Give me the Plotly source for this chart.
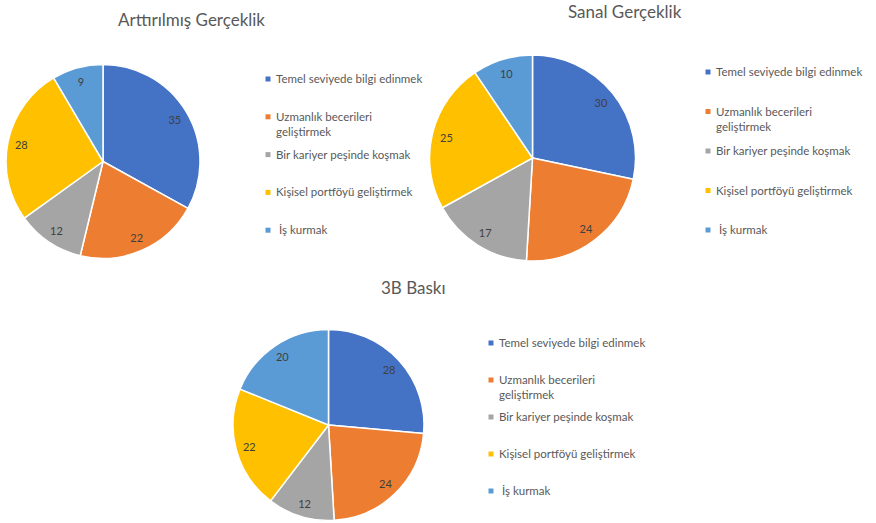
import plotly.graph_objects as go

W, H = 876, 523

labels = ["Temel seviyede bilgi edinmek", "Uzmanlık becerileri geliştirmek",
          "Bir kariyer peşinde koşmak", "Kişisel portföyü geliştirmek", "İş kurmak"]
legend_labels = ["Temel seviyede bilgi edinmek", "Uzmanlık becerileri<br>geliştirmek",
                 "Bir kariyer peşinde koşmak", "Kişisel portföyü geliştirmek", " İş kurmak"]
titles = ["Arttırılmış Gerçeklik", "Sanal Gerçeklik", "3B Baskı"]
ar_values = [35, 22, 12, 28, 9]
vr_values = [30, 24, 17, 25, 10]
print3d_values = [28, 24, 12, 22, 20]
colors = ["#4472C4", "#ED7D31", "#A5A5A5", "#FFC000", "#5B9BD5"]

FONT = "Lato"
TXT = "#595959"

# layout per chart (pixels): pie centre, radius, title centre, legend marker x, first item y, spacing
charts = [
    dict(values=ar_values, cx=103, cy=161.5, r=97, tx=191, ty=20, lx=268, ly=79, dy=37.8),
    dict(values=vr_values, cx=532.5, cy=158, r=103, tx=625, ty=11, lx=708, ly=72, dy=39.5),
    dict(values=print3d_values, cx=328.5, cy=425, r=95.5, tx=413, ty=287, lx=491, ly=343, dy=37),
]

fig = go.Figure()
annotations = []
shapes = []
for title, c in zip(titles, charts):
    dom = dict(x=[(c["cx"] - c["r"]) / W, (c["cx"] + c["r"]) / W],
               y=[1 - (c["cy"] + c["r"]) / H, 1 - (c["cy"] - c["r"]) / H])
    # filled pie
    fig.add_trace(go.Pie(
        labels=labels, values=c["values"], sort=False, direction="clockwise", rotation=0,
        marker=dict(colors=colors, line=dict(color="white", width=1.5)),
        textinfo="none", domain=dom, showlegend=False,
        hoverinfo="label+value+percent",
    ))
    # transparent ring carrying the data labels near the outer edge
    fig.add_trace(go.Pie(
        labels=labels, values=c["values"], sort=False, direction="clockwise", rotation=0,
        hole=0.72,
        marker=dict(colors=["rgba(0,0,0,0)"] * len(labels), line=dict(width=0)),
        textinfo="value", textposition="inside", insidetextorientation="horizontal",
        textfont=dict(family=FONT, size=11, color="#404040"),
        domain=dom, showlegend=False, hoverinfo="skip",
    ))
    annotations.append(dict(text=title, x=c["tx"] / W, y=1 - c["ty"] / H, xref="paper", yref="paper",
                            xanchor="center", yanchor="middle", showarrow=False,
                            font=dict(family=FONT, size=17, color=TXT)))
    for i, (lab, col) in enumerate(zip(legend_labels, colors)):
        y = c["ly"] + i * c["dy"]
        annotations.append(dict(text=lab, x=(c["lx"] + 6) / W, y=1 - (y - 9) / H,
                                xref="paper", yref="paper", xanchor="left", yanchor="top",
                                align="left", showarrow=False,
                                font=dict(family=FONT, size=11.5, color=TXT)))
        shapes.append(dict(type="rect", xref="paper", yref="paper",
                           x0=(c["lx"] - 2.5) / W, x1=(c["lx"] + 2.5) / W,
                           y0=1 - (y + 2.5) / H, y1=1 - (y - 2.5) / H,
                           fillcolor=col, line=dict(width=0)))

fig.update_layout(
    width=W, height=H, margin=dict(l=0, r=0, t=0, b=0),
    paper_bgcolor="white", plot_bgcolor="white",
    annotations=annotations, shapes=shapes,
    font=dict(family=FONT, color=TXT),
)
fig.write_html("out.html", config={"displayModeBar": False},
               post_script="document.body.style.margin='0';")
